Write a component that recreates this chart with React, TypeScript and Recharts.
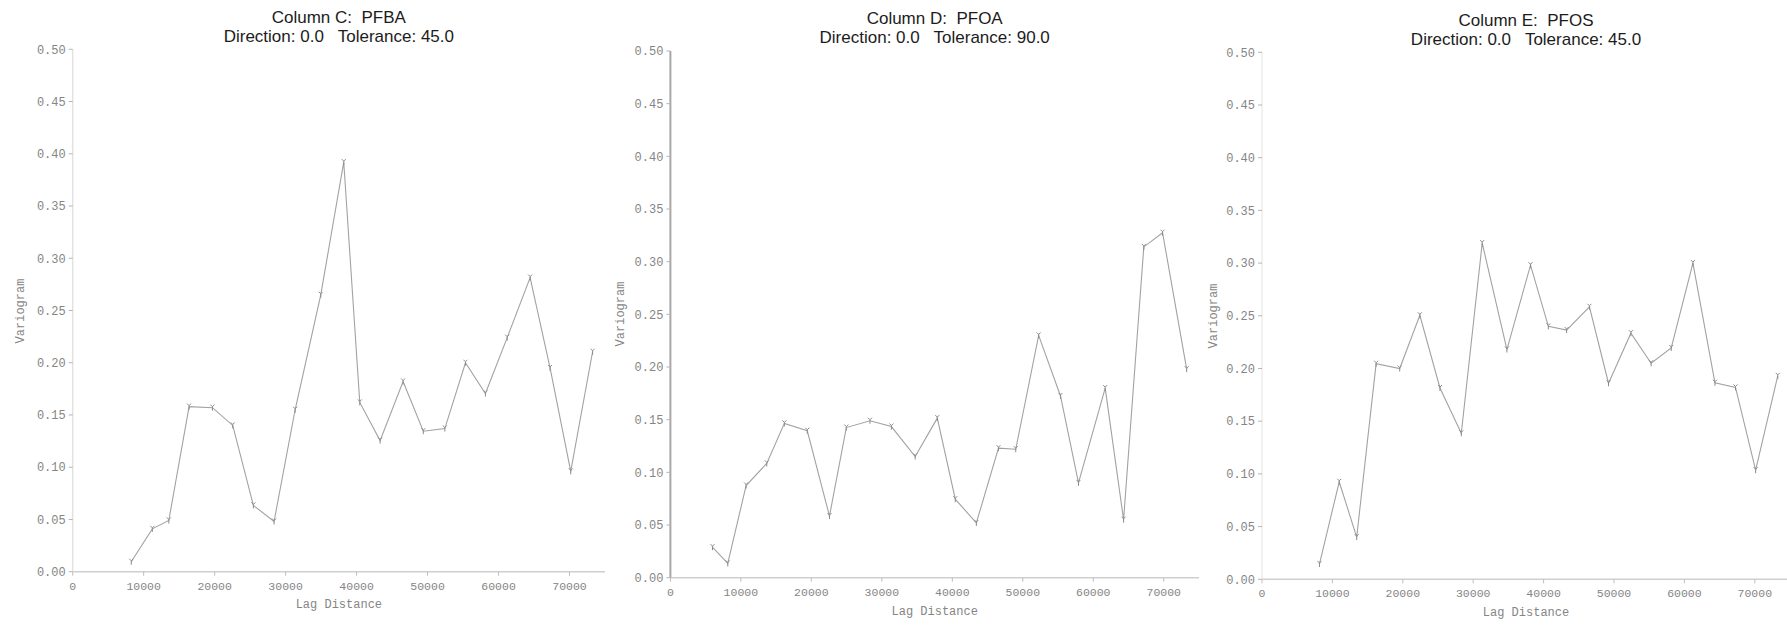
import React from "react";
import { LineChart, Line, XAxis, YAxis } from "recharts";

// ---- data ----
const X_TICKS = [0, 10000, 20000, 30000, 40000, 50000, 60000, 70000];
const Y_TICKS = [0, 0.05, 0.1, 0.15, 0.2, 0.25, 0.3, 0.35, 0.4, 0.45, 0.5];

const pfbaLag = [8250, 11220, 13540, 16400, 19690, 22550, 25460, 28370, 31340, 34950, 38190, 40450, 43310, 46550, 49400, 52430, 55340, 58150, 61220, 64450, 67260, 70170, 73250];
const pfbaGamma = [0.0095, 0.041, 0.049, 0.158, 0.157, 0.140, 0.0635, 0.048, 0.155, 0.265, 0.392, 0.162, 0.1255, 0.182, 0.1345, 0.137, 0.200, 0.1705, 0.224, 0.2815, 0.195, 0.096, 0.2105];

const pfoaLag = [5970, 8140, 10740, 13670, 16170, 19420, 22570, 24960, 28320, 31360, 34730, 37870, 40420, 43410, 46550, 49000, 52250, 55350, 57900, 61690, 64300, 67170, 69830, 73250];
const pfoaGamma = [0.029, 0.0135, 0.0875, 0.1085, 0.1465, 0.1395, 0.0585, 0.1425, 0.149, 0.1435, 0.115, 0.1515, 0.0745, 0.052, 0.123, 0.122, 0.230, 0.1725, 0.090, 0.180, 0.055, 0.314, 0.3275, 0.198];

const pfosLag = [8160, 10970, 13450, 16210, 19560, 22420, 25280, 28310, 31280, 34790, 38140, 40680, 43270, 46510, 49220, 52400, 55270, 58130, 61210, 64340, 67260, 70120, 73260];
const pfosGamma = [0.0145, 0.0925, 0.040, 0.2045, 0.200, 0.2505, 0.1815, 0.1385, 0.319, 0.218, 0.298, 0.240, 0.2365, 0.2585, 0.186, 0.2335, 0.205, 0.2195, 0.300, 0.1865, 0.182, 0.1035, 0.193];

const titles = ["Column C:  PFBA", "Column D:  PFOA", "Column E:  PFOS"];
const subtitles = [
  "Direction: 0.0   Tolerance: 45.0",
  "Direction: 0.0   Tolerance: 90.0",
  "Direction: 0.0   Tolerance: 45.0",
];

const MONO = "'Liberation Mono', 'DejaVu Sans Mono', monospace";
const SANS = "'Liberation Sans', Arial, sans-serif";
const H = 625;
const Y_AXIS_W = 50;
const X_AXIS_H = 40;

type PanelProps = {
  left: number;
  width: number;
  plotLeft: number;
  plotRight: number;
  plotTop: number;
  plotBottom: number;
  lags: number[];
  gammas: number[];
  title: string;
  subtitle: string;
  titleY: number;
  subtitleY: number;
  yAxisColor: string;
  yAxisStrokeWidth: number;
  yLabelX: number;
  xLabelY: number;
};

const Marker = (props: any) => {
  const { cx, cy, index } = props;
  if (cx == null || cy == null) return <g key={index} />;
  return (
    <path
      key={index}
      d={`M${cx - 2},${cy - 3} L${cx},${cy - 1} L${cx + 2},${cy - 3} M${cx},${cy - 1} L${cx},${cy + 3}`}
      stroke="#8a8a8a"
      strokeWidth={1}
      fill="none"
    />
  );
};

function Panel(p: PanelProps) {
  const data = p.lags.map((x, i) => ({ x, y: p.gammas[i] }));
  const margin = {
    top: p.plotTop,
    left: p.plotLeft - p.left - Y_AXIS_W,
    right: p.left + p.width - p.plotRight,
    bottom: H - p.plotBottom - X_AXIS_H,
  };
  const cxPlot = (p.plotLeft + p.plotRight) / 2;
  const cyPlot = (p.plotTop + p.plotBottom) / 2;
  return (
    <>
      <div style={{ position: "absolute", left: p.left, top: 0 }}>
        <LineChart width={p.width} height={H} data={data} margin={margin}>
          <XAxis
            dataKey="x"
            type="number"
            domain={[0, 75000]}
            ticks={X_TICKS}
            allowDataOverflow
            height={X_AXIS_H}
            axisLine={{ stroke: "#cfcfcf", strokeWidth: 1.5 }}
            tickLine={{ stroke: "#bdbdbd" }}
            tickSize={4}
            tickMargin={6}
            tick={{ fill: "#858585", fontSize: 11.5, fontFamily: MONO }}
          />
          <YAxis
            type="number"
            domain={[0, 0.5]}
            ticks={Y_TICKS}
            allowDataOverflow
            width={Y_AXIS_W}
            axisLine={{ stroke: p.yAxisColor, strokeWidth: p.yAxisStrokeWidth }}
            tickLine={{ stroke: "#b5b5b5" }}
            tickSize={4}
            tickMargin={3}
            tickFormatter={(v: number) => v.toFixed(2)}
            tick={{ fill: "#858585", fontSize: 12, fontFamily: MONO }}
          />
          <Line
            type="linear"
            dataKey="y"
            stroke="#a2a2a2"
            strokeWidth={1.1}
            dot={Marker}
            activeDot={false}
            isAnimationActive={false}
          />
        </LineChart>
      </div>
      <div
        style={{
          position: "absolute",
          left: p.plotLeft,
          width: p.plotRight - p.plotLeft,
          top: p.titleY - 10,
          height: 20,
          lineHeight: "20px",
          textAlign: "center",
          fontFamily: SANS,
          fontSize: 17,
          color: "#1c1c1c",
          whiteSpace: "pre",
        }}
      >
        {p.title}
      </div>
      <div
        style={{
          position: "absolute",
          left: p.plotLeft,
          width: p.plotRight - p.plotLeft,
          top: p.subtitleY - 10,
          height: 20,
          lineHeight: "20px",
          textAlign: "center",
          fontFamily: SANS,
          fontSize: 17,
          color: "#1c1c1c",
          whiteSpace: "pre",
        }}
      >
        {p.subtitle}
      </div>
      <div
        style={{
          position: "absolute",
          left: cxPlot,
          top: p.xLabelY,
          transform: "translate(-50%, -50%)",
          fontFamily: MONO,
          fontSize: 12,
          color: "#858585",
          whiteSpace: "pre",
        }}
      >
        Lag Distance
      </div>
      <div
        style={{
          position: "absolute",
          left: p.yLabelX,
          top: cyPlot,
          transform: "translate(-50%, -50%) rotate(-90deg)",
          fontFamily: MONO,
          fontSize: 12,
          color: "#858585",
          whiteSpace: "pre",
        }}
      >
        Variogram
      </div>
    </>
  );
}

export default function App() {
  return (
    <div
      style={{
        position: "absolute",
        left: 0,
        top: 0,
        width: 1787,
        height: H,
        overflow: "hidden",
        background: "#ffffff",
      }}
    >
      <Panel
        left={0}
        width={612}
        plotLeft={72.7}
        plotRight={605}
        plotTop={49.3}
        plotBottom={571.7}
        lags={pfbaLag}
        gammas={pfbaGamma}
        title={titles[0]}
        subtitle={subtitles[0]}
        titleY={18.3}
        subtitleY={36.7}
        yAxisColor="#e2e2e2"
        yAxisStrokeWidth={1.5}
        yLabelX={20.7}
        xLabelY={605}
      />
      <Panel
        left={612}
        width={595}
        plotLeft={670.4}
        plotRight={1199}
        plotTop={51}
        plotBottom={577.7}
        lags={pfoaLag}
        gammas={pfoaGamma}
        title={titles[1]}
        subtitle={subtitles[1]}
        titleY={19}
        subtitleY={38.3}
        yAxisColor="#a8a8a8"
        yAxisStrokeWidth={2}
        yLabelX={620.6}
        xLabelY={612.3}
      />
      <Panel
        left={1207}
        width={585}
        plotLeft={1262}
        plotRight={1790}
        plotTop={52.3}
        plotBottom={579.3}
        lags={pfosLag}
        gammas={pfosGamma}
        title={titles[2]}
        subtitle={subtitles[2]}
        titleY={20.7}
        subtitleY={40}
        yAxisColor="#ececec"
        yAxisStrokeWidth={1.5}
        yLabelX={1213.6}
        xLabelY={613.3}
      />
    </div>
  );
}
